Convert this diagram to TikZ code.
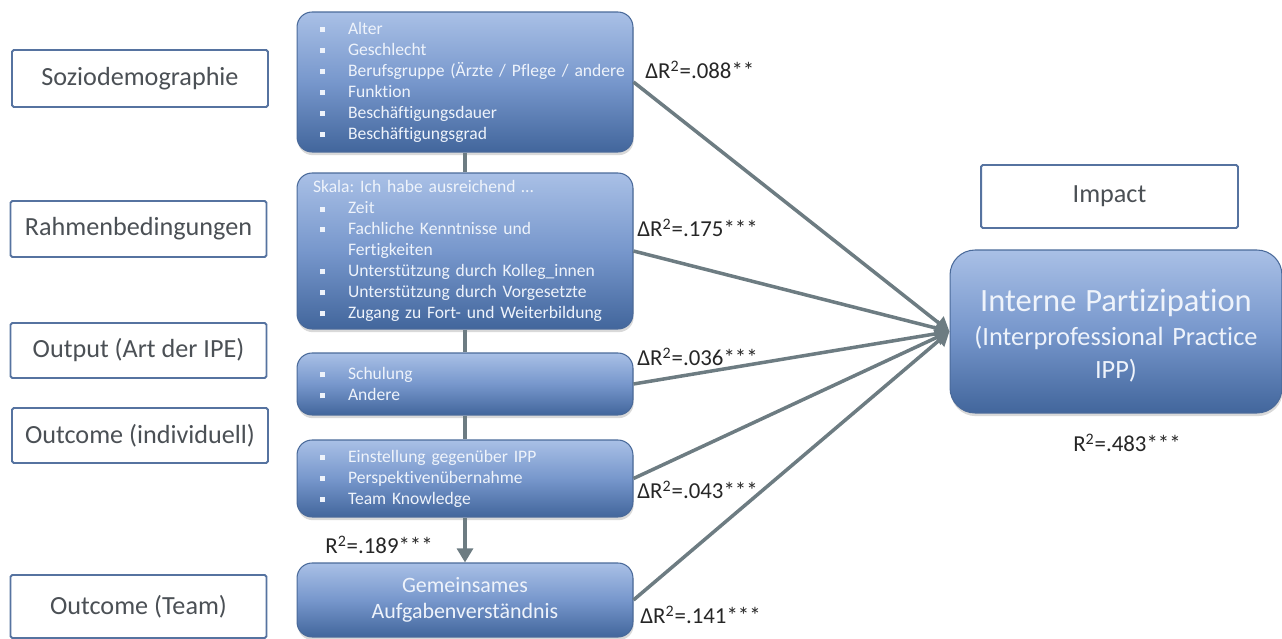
\documentclass[tikz,border=0pt]{standalone}
\usepackage{fontspec}
\setmainfont{Carlito}[Ligatures=NoCommon]
\usepackage{xcolor}
\usepackage{tikz}
\usetikzlibrary{arrows.meta,positioning,shadows}

\definecolor{frameblue}{HTML}{5673A0}
\definecolor{labelgray}{HTML}{4B5055}
\definecolor{boxtop}{HTML}{A9C0E6}
\definecolor{boxmid}{HTML}{7797CC}
\definecolor{boxbottom}{HTML}{42669C}
\definecolor{boxline}{HTML}{4A6A9A}
\definecolor{boxtext}{HTML}{EEF3FB}
\definecolor{arrgray}{HTML}{6D7C82}

\newcommand{\bul}{\makebox[0.7cm][l]{\hspace{0.14cm}\raisebox{0.25ex}{\rule{0.1cm}{0.1cm}}}}
\frenchspacing

\begin{document}
\begin{tikzpicture}[
    x=0.02cm, y=-0.02cm,
    every node/.style={font=\fontsize{10}{11.95}\selectfont},
    labelbox/.style={draw=frameblue, line width=1.1pt, fill=white, rounded corners=1pt, minimum width=5.12cm, text=labelgray, font=\fontsize{14.9}{17}\selectfont},
    itembox/.style={draw=boxline, line width=0.6pt, rounded corners=0.3cm, top color=boxtop, bottom color=boxbottom, middle color=boxmid,
        drop shadow={opacity=0.3, shadow xshift=0.4pt, shadow yshift=-1.8pt},
        minimum width=6.72cm, text width=6.08cm, inner xsep=0.32cm, align=left, text=boxtext},
    stat/.style={font=\fontsize{13}{15}\selectfont, text=black!85, inner sep=0pt},
    link/.style={line width=2pt, draw=arrgray},
    arr/.style={link, -{Triangle[length=8pt,width=9pt]}}
]
\useasboundingbox (0,0) rectangle (1282,639);

% left column
\node[labelbox, minimum height=1.14cm] (soz) at (140,78.5) {Soziodemographie};
\node[labelbox, minimum height=1.12cm] (rah) at (138.5,229) {Rahmenbedingungen};
\node[labelbox, minimum height=1.1cm] (out) at (138.5,350.5) {Output (Art der IPE)};
\node[labelbox, minimum height=1.1cm] (oci) at (140,435.5) {Outcome (individuell)};
\node[labelbox, minimum height=1.26cm] (oct) at (138.5,606.5) {Outcome (Team)};

% predictor boxes
\node[itembox, minimum height=2.8cm] (s1) at (465,82) {\bul Alter\\\bul Geschlecht\\\mbox{\bul Berufsgruppe (Ärzte / Pflege / andere}\\\bul Funktion\\\bul Beschäftigungsdauer\\\bul Beschäftigungsgrad};
\node[itembox, minimum height=3.12cm] (s2) at (465,251) {Skala: Ich habe ausreichend …\\\bul Zeit\\\bul Fachliche Kenntnisse und\\\hspace*{0.7cm}Fertigkeiten\\\bul Unterstützung durch Kolleg\_innen\\\bul Unterstützung durch Vorgesetzte\\\mbox{\bul Zugang zu Fort- und Weiterbildung}};
\node[itembox, minimum height=1.24cm] (s3) at (465,384) {\bul Schulung\\\bul Andere};
\node[itembox, minimum height=1.54cm] (s4) at (465,478.5) {\bul Einstellung gegenüber IPP\\\bul Perspektivenübernahme\\\bul Team Knowledge};
\node[itembox, minimum height=1.48cm, align=center, font=\fontsize{12.5}{14.8}\selectfont] (s5) at (465,600) {Gemeinsames\\Aufgabenverständnis};

% outcome
\node[labelbox, minimum width=5.14cm, minimum height=1.26cm] (imp) at (1109.5,196.5) {Impact};
\node[itembox, minimum width=6.56cm, minimum height=3.26cm, rounded corners=0.5cm, text width=6cm, align=center, font=\fontsize{15}{19}\selectfont] (ipp) at (1116,331.5)
    {\rule{0pt}{0.62cm}{\fontsize{18.5}{20}\selectfont Interne Partizipation}\\(Interprofessional Practice\\IPP)};

\draw[link] (s1) -- (s2);
\draw[link] (s2) -- (s3);
\draw[link] (s3) -- (s4);
\draw[arr] (s4) -- (s5);

\foreach \s in {s1,s2,s3,s4,s5}
    \draw[arr] (\s.east) -- (ipp.west);

% coefficients
\node[stat, anchor=west] (d1) at (645,70) {ΔR\textsuperscript{2}=.088**};
\node[stat, anchor=west] (d2) at (637,228) {ΔR\textsuperscript{2}=.175***};
\node[stat, anchor=west] (d3) at (637,357) {ΔR\textsuperscript{2}=.036***};
\node[stat, anchor=west] (d4) at (637,490) {ΔR\textsuperscript{2}=.043***};
\node[stat, anchor=west] (d5) at (640,615) {ΔR\textsuperscript{2}=.141***};
\node[stat, anchor=west] (r1) at (325,545) {R\textsuperscript{2}=.189***};
\node[stat] (r2) at (1127,443) {R\textsuperscript{2}=.483***};
\end{tikzpicture}
\end{document}
